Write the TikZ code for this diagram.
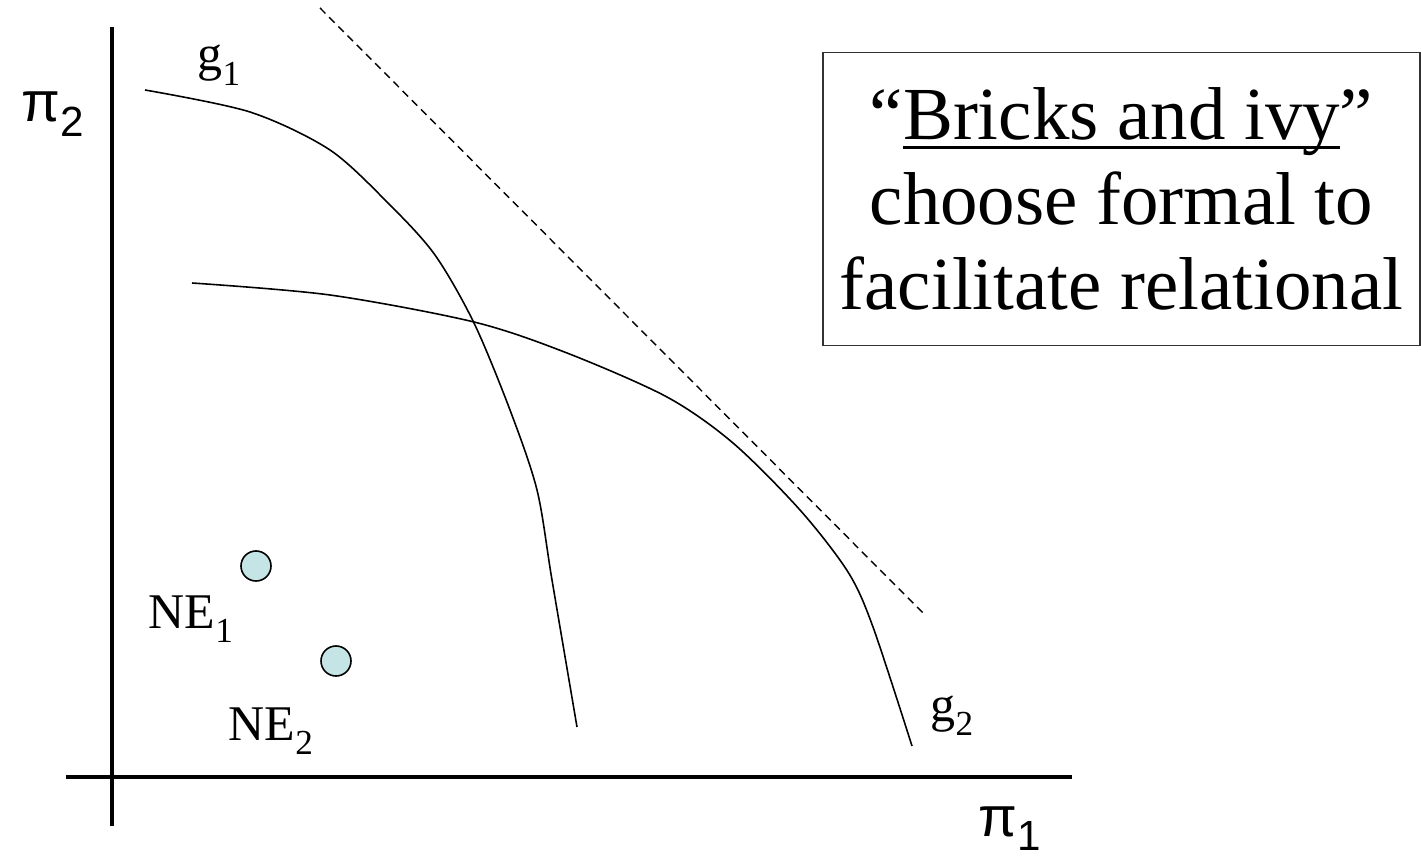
\documentclass[tikz,border=0pt]{standalone}
\usepackage{fontspec}
\setmainfont{Liberation Serif}
\newfontfamily\axisfont{Liberation Sans}
\usetikzlibrary{positioning}
\definecolor{nefill}{RGB}{196,228,230}
\definecolor{boxline}{RGB}{50,50,50}
\tikzset{
  axis/.style={line width=1.4pt, color=black},
  curve/.style={line width=0.45pt, color=black},
  envelope/.style={line width=0.4pt, dash pattern=on 2.2pt off 1.5pt},
  nepoint/.style={circle, draw=black, fill=nefill, minimum size=0.3cm,
    inner sep=0pt, line width=0.45pt},
  lbl/.style={anchor=base west, inner sep=0pt, font=\fontsize{14.2}{14.2}\selectfont},
  axlbl/.style={anchor=base west, inner sep=0pt, font=\axisfont\fontsize{16}{16}\selectfont},
  notebox/.style={rectangle, draw=boxline, line width=0.4pt,
    minimum width=5.97cm, minimum height=2.93cm, align=center,
    font=\fontsize{21.3}{24.2}\selectfont}
}
\newcommand{\lowsub}[1]{\raisebox{-4pt}{\fontsize{10}{10}\selectfont #1}}
\newcommand{\axsub}[1]{\raisebox{-4pt}{\fontsize{12}{12}\selectfont #1}}
\newsavebox{\ulbox}
\newcommand{\lineunder}[1]{\sbox{\ulbox}{#1}\rlap{\rule[-2.6pt]{\wd\ulbox}{0.8pt}}\usebox{\ulbox}}
\begin{document}
\begin{tikzpicture}[x=0.01cm, y=-0.01cm]
  \useasboundingbox (0,0) rectangle (1421,858);

  % Axes
  \coordinate (ytop) at (112,27);
  \coordinate (ybot) at (112,826);
  \coordinate (xleft) at (66,777);
  \coordinate (xright) at (1072,777);
  \draw[axis] (ybot) -- (ytop);
  \draw[axis] (xleft) -- (xright);
  \node[axlbl] (pitwo) at (21,122) {π\axsub{2}};
  \node[axlbl] (pione) at (978,836) {π\axsub{1}};

  % Dashed frontier
  \coordinate (dstart) at (320,8);
  \coordinate (dend) at (925,615);
  \draw[envelope] (dstart) -- (dend);

  % Curve g1
  \draw[curve] plot[smooth, tension=0.5] coordinates {(145,90) (250,112) (330,150)
    (390,205) (435,255) (474,323) (510,410) (537,490) (552,580) (577,727)};
  \node[lbl] (gone) at (197,71) {g\lowsub{1}};

  % Curve g2
  \draw[curve] plot[smooth, tension=0.5] coordinates {(192,283) (330,295) (474,322)
    (567,353) (667,397) (733,443) (800,510) (848,572) (873,627) (912,746)};
  \node[lbl] (gtwo) at (930,721) {g\lowsub{2}};

  % Equilibria
  \node[nepoint] (ne1) at (256,566) {};
  \node[nepoint] (ne2) at (336,661) {};
  \node[lbl] (ne1lbl) at (148,628) {NE\lowsub{1}};
  \node[lbl] (ne2lbl) at (228,740) {NE\lowsub{2}};

  % Note
  \node[notebox] (note) at (1121.5,199) {``\lineunder{Bricks and ivy}''\\choose formal to\\facilitate relational};
\end{tikzpicture}
\end{document}
